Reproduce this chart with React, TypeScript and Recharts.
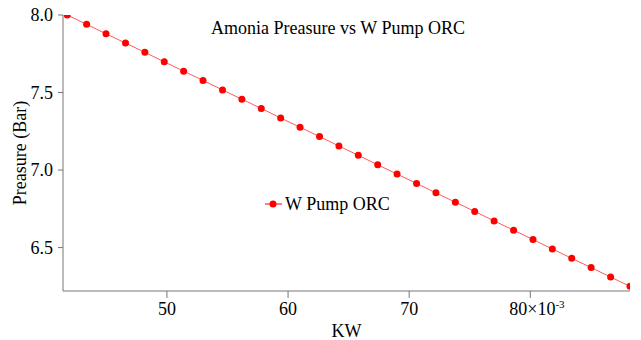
import { LineChart, Line, XAxis, YAxis, Legend } from "recharts";

const kw = [
  41.77, 43.37, 44.97, 46.58, 48.18, 49.78, 51.38, 52.98, 54.59, 56.19,
  57.79, 59.39, 60.99, 62.6, 64.2, 65.8, 67.4, 69.0, 70.61, 72.21,
  73.81, 75.41, 77.01, 78.62, 80.22, 81.82, 83.42, 85.02, 86.63, 88.23,
];
const pressure = [
  8.0, 7.94, 7.879, 7.819, 7.759, 7.698, 7.638, 7.578, 7.517, 7.457,
  7.397, 7.336, 7.276, 7.216, 7.155, 7.095, 7.034, 6.974, 6.914, 6.853,
  6.793, 6.733, 6.672, 6.612, 6.552, 6.491, 6.431, 6.371, 6.31, 6.25,
];
const xTicks = [50, 60, 70, 80];
const yTicks = [6.5, 7.0, 7.5, 8.0];

const data = kw.map((x, i) => ({ x, y: pressure[i] }));

const FONT = "Liberation Serif";
const RED = "#ff0000";
const AXIS = "#777";

function XTick(props: any) {
  const { x, y, payload } = props;
  const v = payload.value;
  if (v === 80) {
    return (
      <g>
        <text x={x - 21} y={y + 13} fill="#000" fontFamily={FONT} fontSize={18} textAnchor="start">
          80×10<tspan fontSize={11} dy={-7}>-3</tspan>
        </text>
      </g>
    );
  }
  return (
    <g>
      <text x={x} y={y + 13} fill="#000" fontFamily={FONT} fontSize={18} textAnchor="middle">
        {String(v)}
      </text>
    </g>
  );
}

function YTick(props: any) {
  const { x, y, payload } = props;
  return (
    <g>
      <text x={x} y={y + 6} fill="#000" fontFamily={FONT} fontSize={18} textAnchor="end">
        {Number(payload.value).toFixed(1)}
      </text>
    </g>
  );
}

function LegendBox() {
  return (
    <svg width={150} height={24} style={{ display: "block" }}>
      <line x1={3} y1={10} x2={20} y2={10} stroke={RED} strokeWidth={1} />
      <circle cx={11} cy={10} r={3.5} fill={RED} />
      <text x={23} y={16} fill="#000" fontFamily={FONT} fontSize={18}>
        W Pump ORC
      </text>
    </svg>
  );
}

export default function App() {
  return (
    <div style={{ position: "absolute", left: 0, top: 0, fontFamily: FONT }}>
      <LineChart
        width={641}
        height={340}
        data={data}
        margin={{ top: 15, right: 11, bottom: 0, left: 15 }}
      >
        <XAxis
          dataKey="x"
          type="number"
          domain={[41.42, 88.23]}
          ticks={xTicks}
          tick={XTick}
          tickSize={7}
          tickMargin={4}
          height={49}
          stroke={AXIS}
          allowDataOverflow
          label={{
            content: (p: any) => {
              const vb = p.viewBox;
              return (
                <text x={vb.x + vb.width / 2} y={337} textAnchor="middle" fill="#000" fontFamily={FONT} fontSize={18}>
                  KW
                </text>
              );
            },
          }}
        />
        <YAxis
          dataKey="y"
          type="number"
          domain={[6.22, 8.0]}
          ticks={yTicks}
          tick={YTick}
          tickSize={5}
          tickMargin={5}
          width={48}
          stroke={AXIS}
          allowDataOverflow
          label={{
            content: (p: any) => {
              const vb = p.viewBox;
              const cy = vb.y + vb.height / 2;
              const cx = 26;
              return (
                <text
                  x={cx}
                  y={cy}
                  transform={`rotate(-90 ${cx} ${cy})`}
                  textAnchor="middle"
                  fill="#000"
                  fontFamily={FONT}
                  fontSize={18}
                >
                  Preasure (Bar)
                </text>
              );
            },
          }}
        />
        <Legend
          layout="horizontal"
          verticalAlign="middle"
          align="center"
          content={LegendBox}
          wrapperStyle={{ position: "absolute", left: 262, top: 194, width: 150 }}
        />
        <Line
          dataKey="y"
          name="W Pump ORC"
          stroke="#ff5a5a"
          strokeWidth={1}
          dot={{ r: 3.5, fill: RED, stroke: RED, strokeWidth: 0 }}
          isAnimationActive={false}
        />
        <text x={338} y={34} textAnchor="middle" fill="#000" fontFamily={FONT} fontSize={18}>
          Amonia Preasure vs W Pump ORC
        </text>
      </LineChart>
    </div>
  );
}
